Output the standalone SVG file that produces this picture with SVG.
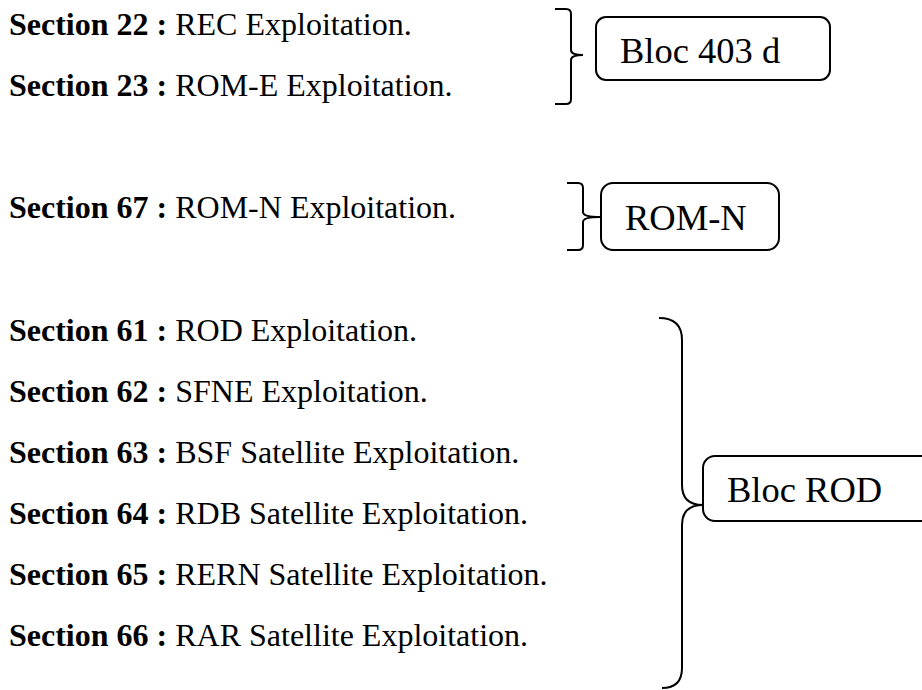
<svg xmlns="http://www.w3.org/2000/svg" width="922" height="690" viewBox="0 0 922 690">
  <style>
    .t { font-family: "Liberation Serif", "Times New Roman", serif; font-size: 32px; fill: #000; }
    .b { font-weight: bold; }
    .bx { fill: #fff; stroke: #000; stroke-width: 2; }
    .bt { font-family: "Liberation Serif", "Times New Roman", serif; font-size: 36.5px; fill: #000; }
    .br { fill: none; stroke: #000; stroke-width: 2; }
  </style>
  <rect width="922" height="690" fill="#fff"/>
  <g id="sections">
    <text class="t" x="9" y="35"><tspan class="b">Section 22 :</tspan> REC Exploitation.</text>
    <text class="t" x="9" y="96"><tspan class="b">Section 23 :</tspan> ROM-E Exploitation.</text>
    <text class="t" x="9" y="218"><tspan class="b">Section 67 :</tspan> ROM-N Exploitation.</text>
    <text class="t" x="9" y="341"><tspan class="b">Section 61 :</tspan> ROD Exploitation.</text>
    <text class="t" x="9" y="402"><tspan class="b">Section 62 :</tspan> SFNE Exploitation.</text>
    <text class="t" x="9" y="463"><tspan class="b">Section 63 :</tspan> BSF Satellite Exploitation.</text>
    <text class="t" x="9" y="524"><tspan class="b">Section 64 :</tspan> RDB Satellite Exploitation.</text>
    <text class="t" x="9" y="585"><tspan class="b">Section 65 :</tspan> RERN Satellite Exploitation.</text>
    <text class="t" x="9" y="646"><tspan class="b">Section 66 :</tspan> RAR Satellite Exploitation.</text>
  </g>
  <g id="connectors">
    <path class="br" d="M555,9 H566 Q571,9 571,14 V50 Q571,55 583,55 Q571,55 571,60 V99 Q571,104 566,104 H555"/>
    <path class="br" d="M567,183 H578 Q583,183 583,188 V212 Q583,217 600,217 Q583,217 583,222 V245 Q583,250 578,250 H567"/>
    <path class="br" d="M659,318 Q682,318 682,340 V485 Q682,505 703,505 Q682,505 682,525 V668 Q682,688 662,688"/>
  </g>
  <g id="bloc403d">
    <rect class="bx" x="596" y="17" width="234" height="63" rx="10"/>
    <text class="bt" x="620" y="63">Bloc 403 d</text>
  </g>
  <g id="romn">
    <rect class="bx" x="601" y="183" width="178" height="67" rx="12"/>
    <text class="bt" x="625" y="230">ROM-N</text>
  </g>
  <g id="blocrod">
    <rect class="bx" x="703" y="456" width="260" height="65" rx="12"/>
    <text class="bt" x="727" y="502">Bloc ROD</text>
  </g>
</svg>
